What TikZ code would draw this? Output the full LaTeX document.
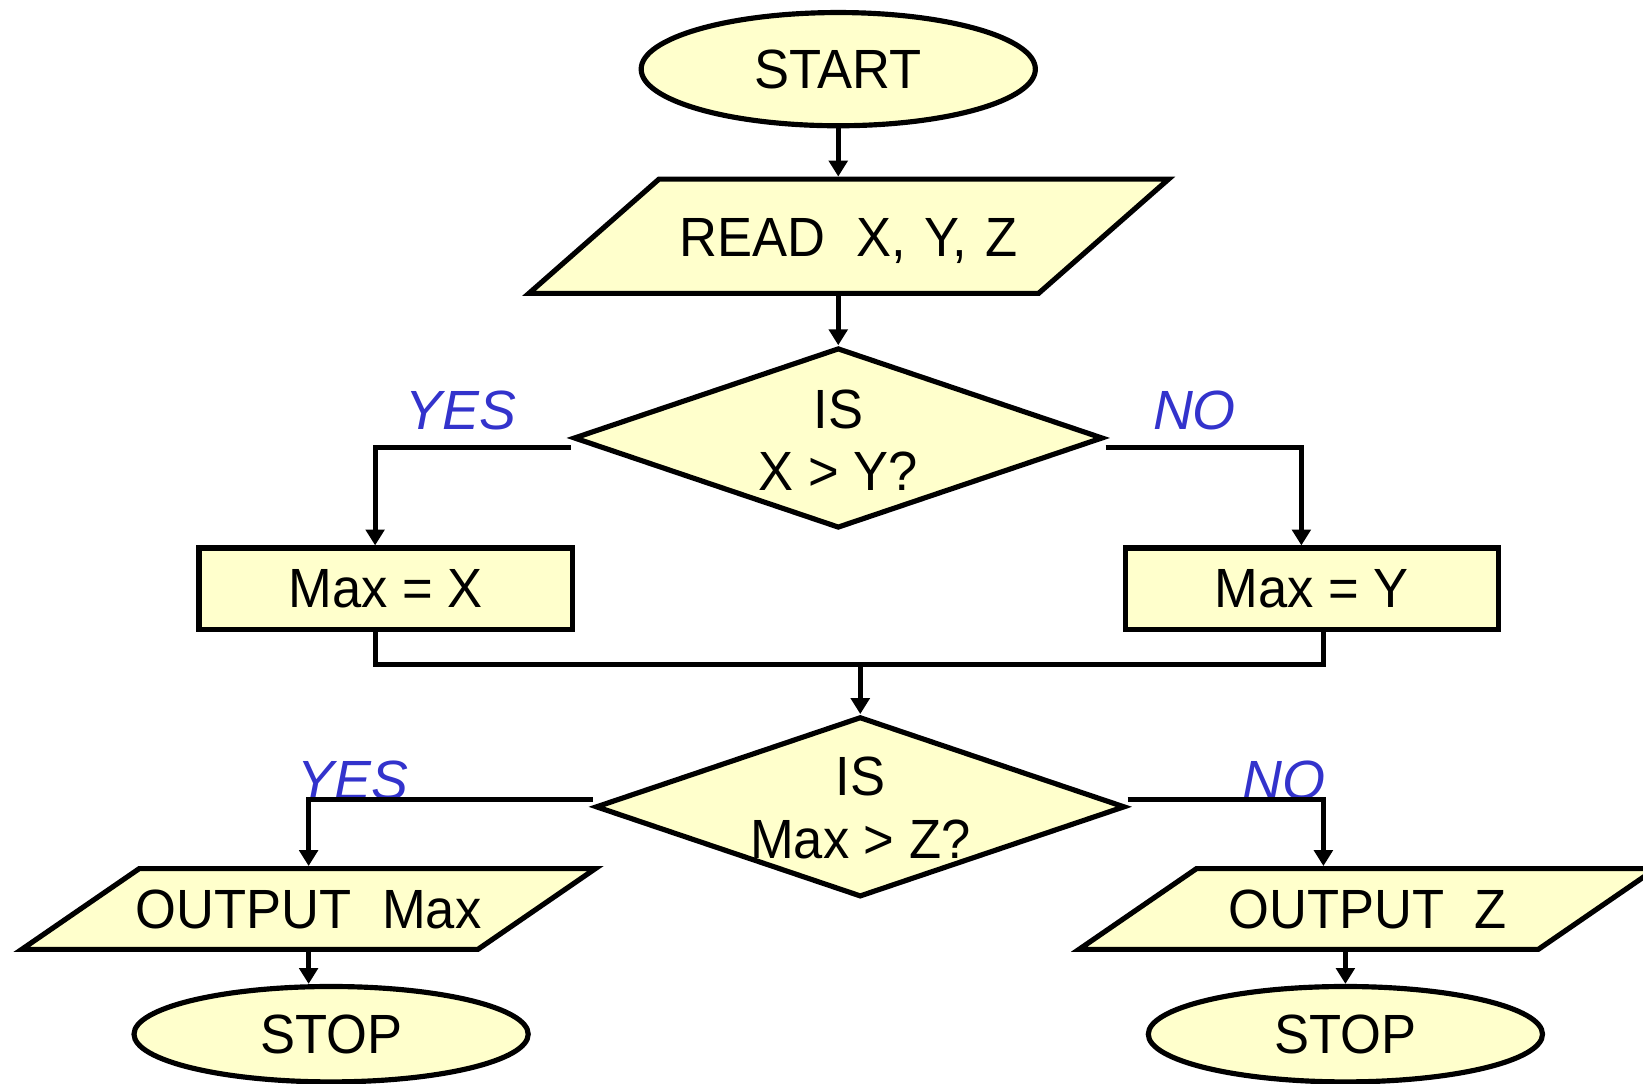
\documentclass[tikz,border=0pt]{standalone}
\usepackage{fontspec}
\setmainfont{Liberation Sans}[FakeStretch=0.95]
\newfontfamily\answerfont{Liberation Sans}
\usetikzlibrary{shapes.geometric,arrows.meta}
\definecolor{boxfill}{RGB}{255,255,204}
\definecolor{answerblue}{RGB}{51,51,204}
\tikzset{arrow/.style={-{Triangle[length=4.3pt,width=5pt]}, line width=1.4pt},
  line/.style={line width=1.4pt},
  terminal/.style={ellipse, draw, line width=1.4pt, fill=boxfill, minimum width=3.76cm, inner sep=0pt},
  io/.style={trapezium, draw, line width=1.4pt, fill=boxfill, inner sep=0pt, align=center},
  decision/.style={diamond, draw, line width=1.4pt, fill=boxfill, minimum width=5.05cm, minimum height=1.72cm, inner sep=0pt},
  process/.style={rectangle, draw, line width=1.4pt, fill=boxfill, minimum width=3.56cm, minimum height=0.78cm},
  answer/.style={text=answerblue, font=\fontsize{15}{17}\answerfont\itshape}}

\begin{document}
\begin{tikzpicture}[x=0.01cm, y=-0.01cm, font=\fontsize{15}{17}\selectfont]
            \useasboundingbox (0,0) rectangle (1568,1034);
            \node[terminal, minimum height=1.08cm] (start) at (800,66) {START};
            \node[io, trapezium left angle=41.3, trapezium right angle=138.7, text width=3.62cm, text height=0.735cm, text depth=0.355cm] (read) at (810,225.5) {\makebox[\linewidth]{READ\hspace{0.56em}X, Y, Z}};
            \node[decision] (q1) at (800,418) {};
            \node[align=center] (q1txt) at (800,420) {IS\\X > Y?};
            \node[process] (maxx) at (368,562) {Max = X};
            \node[process] (maxy) at (1252,562) {Max = Y};
            \coordinate (merge) at (821,634);
            \node[decision] (q2) at (821,770) {};
            \node[align=center] (q2txt) at (821,771) {IS\\Max > Z?};
            \node[io, trapezium left angle=34.5, trapezium right angle=145.5, text width=3.23cm, text height=0.575cm, text depth=0.195cm] (outmax) at (294.5,867.5) {\makebox[\linewidth]{OUTPUT\hspace{0.55em}Max}};
            \node[io, trapezium left angle=34.5, trapezium right angle=145.5, text width=3.26cm, text height=0.575cm, text depth=0.195cm] (outz) at (1305,867.5) {\makebox[\linewidth]{OUTPUT\hspace{0.55em}Z}};
            \node[terminal, minimum height=0.91cm] (stopl) at (316,987) {STOP};
            \node[terminal, minimum height=0.91cm] (stopr) at (1284,987) {STOP};
            \node[answer] (yes1) at (440,392) {YES};
            \node[answer] (no1) at (1140,392) {NO};
            \node[answer] (yes2) at (337,745) {YES};
            \node[answer] (no2) at (1225,745) {NO};
            \draw[arrow] (start.south) -- (start.south |- read.north);
            \draw[arrow] (q1.north |- read.south) -- (q1.north);
            \draw[arrow] ([yshift=-0.09cm]q1.west) -| ([xshift=-0.1cm]maxx.north);
            \draw[arrow] ([yshift=-0.09cm]q1.east) -| ([xshift=-0.1cm]maxy.north);
            \draw[line] ([xshift=-0.1cm]maxx.south) |- (merge);
            \draw[line] ([xshift=0.11cm]maxy.south) |- (merge);
            \draw[arrow] (merge) -- (q2.north);
            \draw[arrow] ([yshift=0.07cm]q2.west) -| (outmax.north);
            \draw[arrow] ([yshift=0.07cm]q2.east) -| ([xshift=-0.42cm]outz.north);
            \draw[arrow] (outmax.south) -- (outmax.south |- stopl.north);
            \draw[arrow] (stopr.north |- outz.south) -- (stopr.north);
        \end{tikzpicture}
\end{document}
